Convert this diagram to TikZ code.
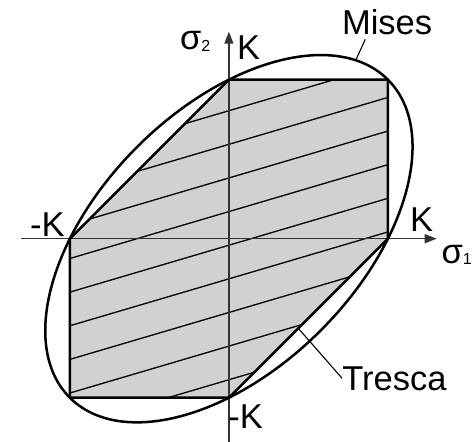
\documentclass[tikz,border=0pt]{standalone}
\usepackage{fontspec}
\setmainfont{Liberation Sans}
\usetikzlibrary{arrows.meta,calc}
\definecolor{tresfill}{gray}{0.82}
\newcommand{\lowidx}[1]{\raisebox{-1.5pt}{\fontsize{16}{16}\selectfont #1}}

\begin{document}
\begin{tikzpicture}[
    x=1pt, y=1pt,
    lbl/.style={inner sep=0pt, anchor=base west, font=\fontsize{34.5}{38}\selectfont},
    axis/.style={line width=1.4pt, black!80},
    rim/.style={line width=2.5pt, line join=round},
    hatch/.style={line width=1.3pt},
    lead/.style={line width=1.1pt},
    >={Triangle[length=12pt, width=9pt]}
  ]
  \useasboundingbox (-228.9,-203.3) rectangle (243.1,238.7);
  \def\K{159}
  \coordinate (O) at (0,0);
  \coordinate (t1) at (\K,0);
  \coordinate (t2) at (\K,\K);
  \coordinate (t3) at (0,\K);
  \coordinate (t4) at (-\K,0);
  \coordinate (t5) at (-\K,-\K);
  \coordinate (t6) at (0,-\K);

  \fill[tresfill] (t1) -- (t2) -- (t3) -- (t4) -- (t5) -- (t6) -- cycle;
  \begin{scope}
    \clip (t1) -- (t2) -- (t3) -- (t4) -- (t5) -- (t6) -- cycle;
    \foreach \k in {0,...,8}
      \draw[hatch] (-\K, {(0.805-0.2115*\k-0.295)*\K}) -- (\K, {(0.805-0.2115*\k+0.295)*\K});
  \end{scope}

  \coordinate (xl) at (-208,0);
  \coordinate (xr) at (207.8,0);
  \coordinate (yb) at (0,-204);
  \coordinate (yt) at (0,207);
  \draw[axis,->] (xl) -- (xr);
  \draw[axis,->] (yb) -- (yt);

  \draw[rim] (t1) -- (t2) -- (t3) -- (t4) -- (t5) -- (t6) -- cycle;
  \draw[rim, rotate=45] (O) ellipse [x radius=224.9, y radius=129.8];

  \node[lbl] (mises) at (113,203.7) {Mises};
  \node[lbl] (tresca) at (113.2,-151.3) {Tresca};
  \node[lbl] (s2) at (-49,188.7) {σ\lowidx{2}};
  \node[lbl] (s1) at (212.5,-24.6) {σ\lowidx{1}};
  \node[lbl] (ktop) at (8,179.4) {K};
  \node[lbl] (kright) at (181,7) {K};
  \node[lbl] (kleft) at (-199,2) {-K};
  \node[lbl] (kbot) at (-0.7,-189.6) {-K};

  \coordinate (mpt) at (126.8,178.4);
  \coordinate (mend) at (136.4,199.4);
  \coordinate (tpt) at (69.4,-89.6);
  \draw[lead] (mpt) -- (mend);
  \draw[lead] (tpt) -- (tresca.west);
\end{tikzpicture}
\end{document}
